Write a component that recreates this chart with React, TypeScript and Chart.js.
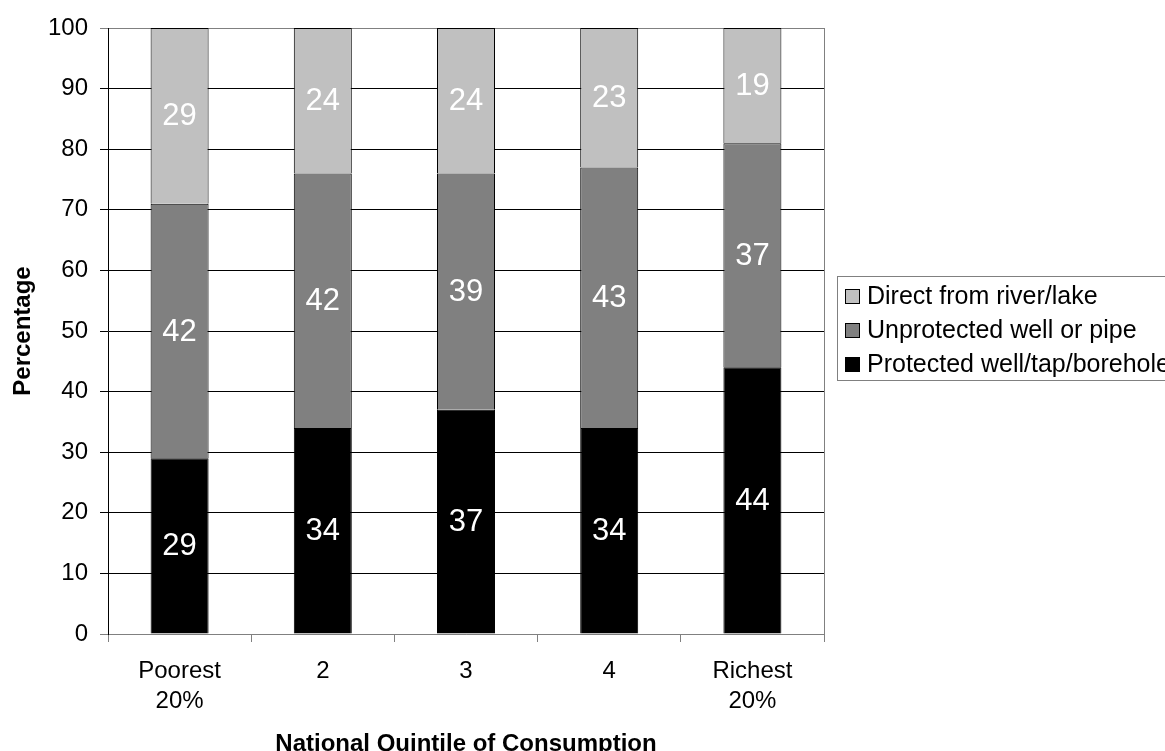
import React, { useEffect, useRef } from 'react';
import { Chart, registerables } from 'chart.js';

Chart.register(...registerables);

const FONT = '"Liberation Sans", Arial, Helvetica, sans-serif';

const categories: (string | string[])[] = [['Poorest', '20%'], '2', '3', '4', ['Richest', '20%']];
const protectedValues = [29, 34, 37, 34, 44];
const unprotectedValues = [42, 42, 39, 43, 37];
const directValues = [29, 24, 24, 23, 19];
const seriesNames = ['Protected well/tap/borehole', 'Unprotected well or pipe', 'Direct from river/lake'];
const seriesColors = ['#000000', '#808080', '#C0C0C0'];
const yAxisTitle = 'Percentage';
const xAxisTitle = 'National Quintile of Consumption';
const yMin = 0;
const yMax = 100;
const yStep = 10;

const valueLabels = {
  id: 'valueLabels',
  afterDatasetsDraw(chart: any) {
    const ctx = chart.ctx;
    ctx.save();
    ctx.fillStyle = '#ffffff';
    ctx.font = `31px ${FONT}`;
    ctx.textAlign = 'center';
    ctx.textBaseline = 'middle';
    chart.data.datasets.forEach((ds: any, i: number) => {
      const meta = chart.getDatasetMeta(i);
      meta.data.forEach((el: any, j: number) => {
        const p = el.getCenterPoint();
        ctx.fillText(String(ds.data[j]), p.x, p.y + 1);
      });
    });
    ctx.restore();
  },
};

const frameAndLegend = {
  id: 'frameAndLegend',
  afterDraw(chart: any) {
    const { ctx, chartArea } = chart;
    ctx.save();
    // right frame line
    ctx.strokeStyle = '#808080';
    ctx.lineWidth = 1;
    ctx.beginPath();
    const rx = Math.round(chartArea.right) + 0.5;
    ctx.moveTo(rx, chartArea.top);
    ctx.lineTo(rx, chartArea.bottom);
    ctx.stroke();

    // legend
    const x0 = Math.round(chartArea.right) + 13;
    const y0 = 276;
    ctx.fillStyle = '#ffffff';
    ctx.fillRect(x0, y0, 400, 104);
    ctx.strokeStyle = '#808080';
    ctx.strokeRect(x0 + 0.5, y0 + 0.5, 400, 104);
    ctx.font = `25px ${FONT}`;
    ctx.textAlign = 'left';
    ctx.textBaseline = 'middle';
    const n = chart.data.datasets.length;
    for (let k = 0; k < n; k++) {
      const ds = chart.data.datasets[n - 1 - k];
      const cy = y0 + 20 + k * 34;
      ctx.fillStyle = ds.backgroundColor;
      ctx.fillRect(x0 + 8, cy - 7, 15, 15);
      ctx.strokeStyle = '#000000';
      ctx.strokeRect(x0 + 8.5, cy - 6.5, 14, 14);
      ctx.fillStyle = '#000000';
      ctx.fillText(ds.label, x0 + 30, cy + 1);
    }
    ctx.restore();
  },
};

export default function App() {
  const ref = useRef<HTMLCanvasElement | null>(null);

  useEffect(() => {
    if (!ref.current) return;
    const values = [protectedValues, unprotectedValues, directValues];
    const chart = new Chart(ref.current, {
      type: 'bar',
      data: {
        labels: categories,
        datasets: values.map((v, i) => ({
          label: seriesNames[i],
          data: v,
          backgroundColor: seriesColors[i],
          borderColor: '#000000',
          borderWidth: 1,
          categoryPercentage: 1,
          barPercentage: 0.405,
        })),
      },
      options: {
        responsive: false,
        animation: false,
        events: [],
        layout: { padding: { left: 0, top: 28, right: 341, bottom: 0 } },
        plugins: {
          legend: { display: false },
          tooltip: { enabled: false },
          title: { display: false },
        },
        scales: {
          x: {
            stacked: true,
            afterFit: (scale: any) => {
              scale.height = 117;
            },
            grid: {
              offset: true,
              drawOnChartArea: false,
              drawTicks: true,
              tickLength: 8,
              color: '#808080',
            },
            border: { color: '#808080' },
            ticks: {
              color: '#000000',
              padding: 14,
              maxRotation: 0,
              autoSkip: false,
              font: { family: FONT, size: 24, lineHeight: 1.25 },
            },
            title: {
              display: true,
              text: xAxisTitle,
              color: '#000000',
              padding: { top: 0, bottom: 0 },
              font: { family: FONT, size: 24, weight: 'bold', lineHeight: 0.55 },
            },
          },
          y: {
            stacked: true,
            min: yMin,
            max: yMax,
            afterFit: (scale: any) => {
              scale.width = 108;
            },
            grid: {
              color: (c: any) => (c.tick && (c.tick.value === yMax || c.tick.value === yMin) ? '#808080' : '#000000'),
              tickLength: 8,
              drawTicks: true,
            },
            border: { color: '#000000' },
            ticks: {
              stepSize: yStep,
              color: '#000000',
              padding: 12,
              font: { family: FONT, size: 24 },
            },
            title: {
              display: true,
              text: yAxisTitle,
              color: '#000000',
              padding: { top: 9, bottom: 0 },
              font: { family: FONT, size: 24, weight: 'bold' },
            },
          },
        },
      },
      plugins: [valueLabels, frameAndLegend],
    } as any);
    return () => chart.destroy();
  }, []);

  return (
    <div style={{ position: 'absolute', left: 0, top: 0, width: 1165, height: 751, background: '#ffffff', overflow: 'hidden' }}>
      <canvas ref={ref} width={1165} height={751} style={{ width: 1165, height: 751, display: 'block' }} />
    </div>
  );
}
